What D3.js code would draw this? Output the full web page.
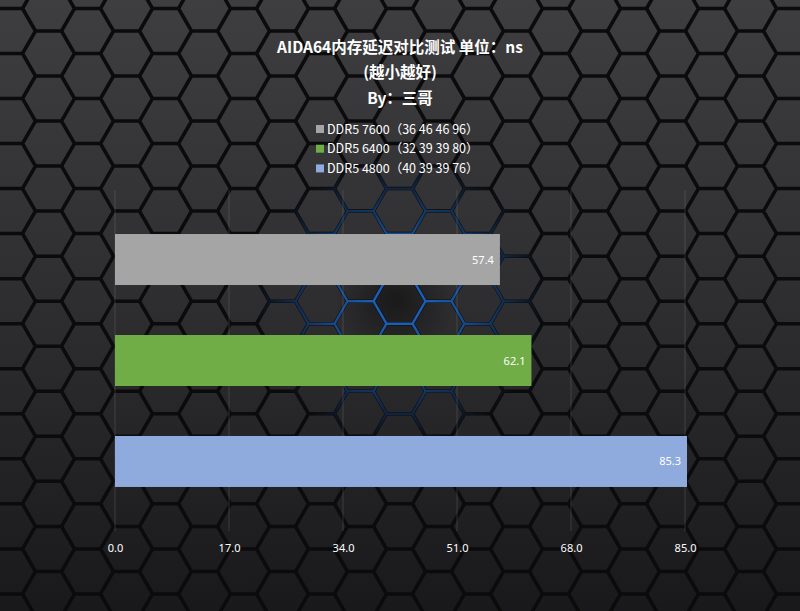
<!DOCTYPE html>
<html><head><meta charset="utf-8">
<script src="https://cdn.jsdelivr.net/npm/d3@7"></script>
<style>html,body{margin:0;padding:0;background:#222;}svg{display:block;}</style>
</head><body>
<script>
const titleLines = ["AIDA64内存延迟对比测试 单位：ns", "(越小越好)", "By：三哥"];
const seriesNames = ["DDR5 7600（36 46 46 96）", "DDR5 6400（32 39 39 80）", "DDR5 4800（40 39 39 76）"];
const seriesValues = [57.4, 62.1, 85.3];
const seriesColors = ["#a5a5a5", "#70ad47", "#8faadc"];
const tickValues = [0, 17, 34, 51, 68, 85];

const W = 800, H = 611;
const svg = d3.select("body").append("svg").attr("width", W).attr("height", H);
const defs = svg.append("defs");

const bg = defs.append("linearGradient").attr("id","bg").attr("x1",0).attr("y1",0).attr("x2",0).attr("y2",1);
bg.append("stop").attr("offset","0%").attr("stop-color","#3e3e40");
bg.append("stop").attr("offset","55%").attr("stop-color","#2c2c2e");
bg.append("stop").attr("offset","100%").attr("stop-color","#19191b");

const rg = defs.append("radialGradient").attr("id","glow").attr("gradientUnits","userSpaceOnUse")
  .attr("cx",400).attr("cy",300).attr("r",145);
rg.append("stop").attr("offset","0%").attr("stop-color","#fff").attr("stop-opacity",0.95);
rg.append("stop").attr("offset","50%").attr("stop-color","#fff").attr("stop-opacity",0.6);
rg.append("stop").attr("offset","100%").attr("stop-color","#fff").attr("stop-opacity",0);
defs.append("mask").attr("id","glowMask").append("rect").attr("width",W).attr("height",H).attr("fill","url(#glow)");

const dg = defs.append("radialGradient").attr("id","dark").attr("gradientUnits","userSpaceOnUse")
  .attr("cx",395).attr("cy",300).attr("r",60);
dg.append("stop").attr("offset","0%").attr("stop-color","#000").attr("stop-opacity",0.45);
dg.append("stop").attr("offset","100%").attr("stop-color","#000").attr("stop-opacity",0);

svg.append("rect").attr("width",W).attr("height",H).attr("fill","url(#bg)");
svg.append("rect").attr("width",W).attr("height",H).attr("fill","url(#dark)");

// decorative hexagon background
const r = 26, hh = r*Math.sqrt(3), cs = 1.5*r;
let hexPath = "";
for (let c=-3; c<25; c++){
  for (let row=-2; row<16; row++){
    const cx = 87.5 + cs*c, cy = 31 + hh*row + ((c%2+2)%2 ? hh/2 : 0);
    let p = "";
    for (let k=0;k<6;k++){
      const a = Math.PI/3*k;
      p += (k?"L":"M") + (cx + r*Math.cos(a)).toFixed(1) + "," + (cy + r*Math.sin(a)).toFixed(1);
    }
    hexPath += p + "Z";
  }
}
svg.append("path").attr("d",hexPath).attr("fill","none").attr("stroke","#0b0b0c").attr("stroke-width",3.5);
svg.append("path").attr("d",hexPath).attr("fill","none").attr("stroke","#1f70d8").attr("stroke-width",2.4).attr("mask","url(#glowMask)");

// chart
const x = d3.scaleLinear().domain([0,85]).range([115,685]);
const y = d3.scaleBand().domain(seriesNames).range([190,531]).paddingInner(0.495).paddingOuter(0.436);

svg.append("g").selectAll("line").data(tickValues).join("line")
  .attr("x1",d=>x(d)).attr("x2",d=>x(d)).attr("y1",190).attr("y2",531)
  .attr("stroke","#8a8a8a").attr("stroke-opacity",0.28).attr("stroke-width",1);

svg.append("g").selectAll("rect").data(seriesValues).join("rect")
  .attr("x",x(0)).attr("y",(d,i)=>y(seriesNames[i]))
  .attr("width",d=>x(d)-x(0)).attr("height",y.bandwidth())
  .attr("fill",(d,i)=>seriesColors[i]);

svg.append("g").selectAll("text").data(seriesValues).join("text")
  .attr("x",d=>x(d)-6).attr("y",(d,i)=>y(seriesNames[i])+y.bandwidth()/2+4)
  .attr("text-anchor","end").attr("fill","#fff")
  .attr("font-family","'Noto Sans', 'Open Sans', sans-serif").attr("font-size",11)
  .text(d=>d.toFixed(1));

const axis = d3.axisBottom(x).tickValues(tickValues).tickFormat(d3.format(".1f")).tickSize(0).tickPadding(0);
const ag = svg.append("g").attr("transform","translate(0,544)").call(axis);
ag.select(".domain").remove();
ag.selectAll("text").attr("fill","#fff").attr("font-size",11)
  .attr("font-family","'Noto Sans', 'Open Sans', sans-serif");

// title
svg.append("g").selectAll("text").data(titleLines).join("text")
  .attr("x",400).attr("y",(d,i)=>52.5+i*25.5).attr("text-anchor","middle")
  .attr("fill","#fff").attr("font-weight","bold").attr("font-size",15.5)
  .attr("font-family","'Noto Sans CJK SC', sans-serif").text(d=>d);

// legend
const lg = svg.append("g").selectAll("g").data(seriesNames).join("g")
  .attr("transform",(d,i)=>`translate(316,${129+i*19.7})`);
lg.append("rect").attr("x",0).attr("y",-4).attr("width",8).attr("height",8).attr("fill",(d,i)=>seriesColors[i]);
lg.append("text").attr("x",11).attr("y",4.5).attr("fill","#fff").attr("font-size",12.5)
  .attr("font-family","'Noto Sans CJK SC', sans-serif").text(d=>d);
</script>
</body></html>
